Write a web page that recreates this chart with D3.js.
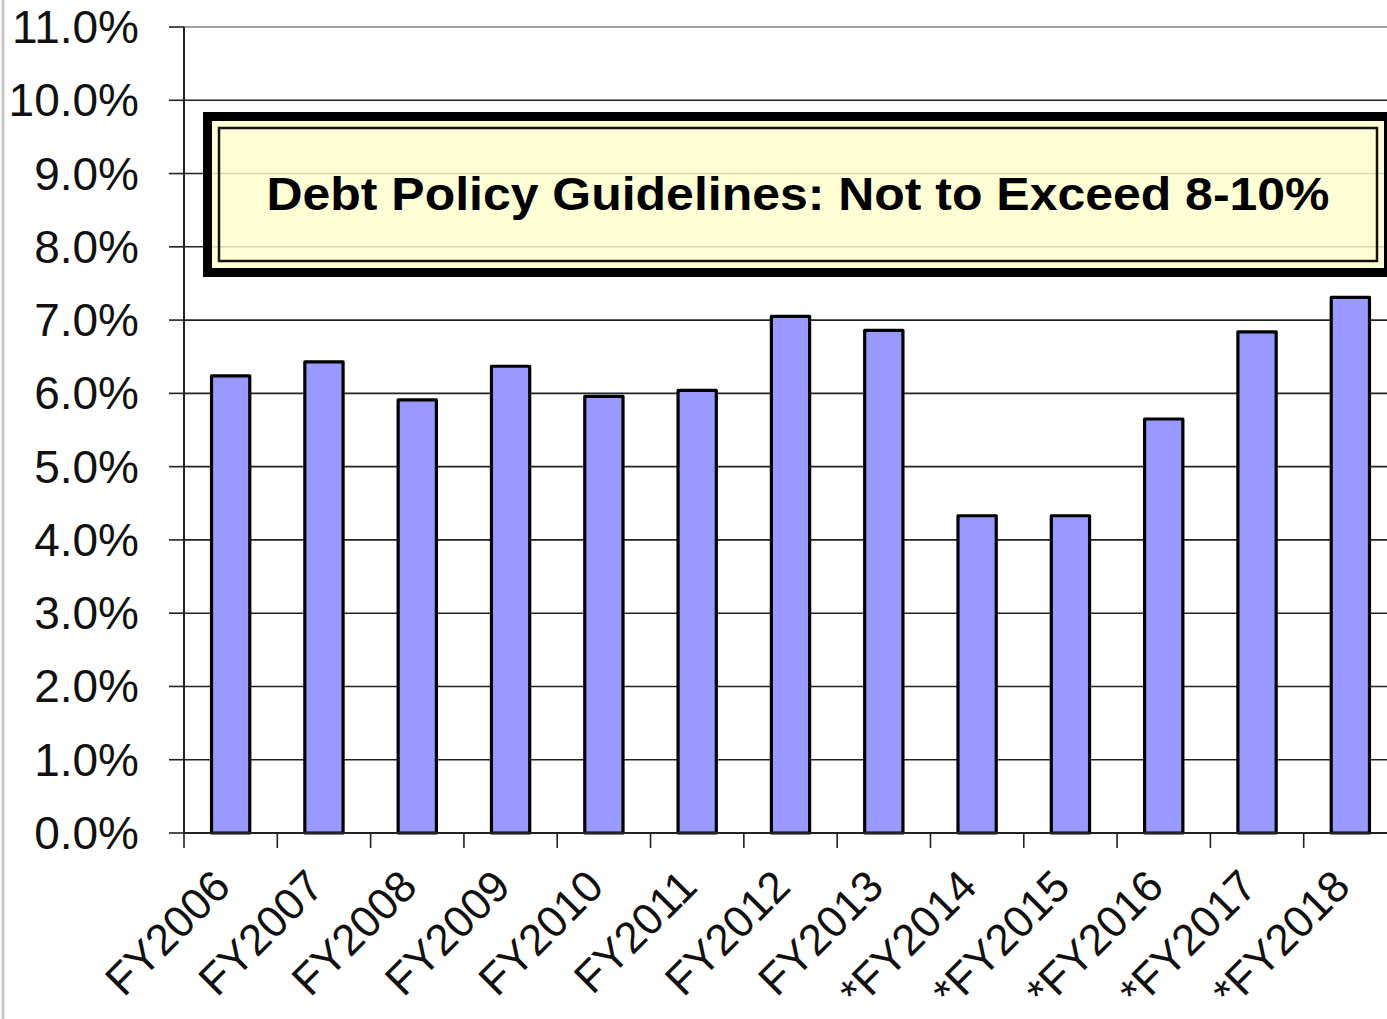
<!DOCTYPE html>
<html>
<head>
<meta charset="utf-8">
<script src="https://cdn.jsdelivr.net/npm/d3@7"></script>
<style>
  html,body{margin:0;padding:0;background:#fff;}
  svg{display:block;}
</style>
</head>
<body>
<div id="chart"></div>
<script>
// data
const years = ["FY2006","FY2007","FY2008","FY2009","FY2010","FY2011","FY2012",
               "FY2013","*FY2014","*FY2015","*FY2016","*FY2017","*FY2018"];
const ratio = [6.24, 6.43, 5.91, 6.37, 5.96, 6.04, 7.05, 6.86, 4.33, 4.33, 5.65, 6.84, 7.31];
const yTicks = [0,1,2,3,4,5,6,7,8,9,10,11];
const noteText = "Debt Policy Guidelines: Not to Exceed 8-10%";

const W=1387, H=1019;
const MG={t:27,l:184,b:186};
const iW=1213, iH=H-MG.t-MG.b;
const FONT="'Liberation Sans', Arial, sans-serif";

const svg=d3.select("#chart").append("svg").attr("width",W).attr("height",H);

// outer frame line at the left
svg.append("line").attr("x1",3).attr("x2",3).attr("y1",0).attr("y2",H)
  .attr("stroke","#c8c8c8").attr("stroke-width",3);

const g=svg.append("g").attr("transform",`translate(${MG.l},${MG.t})`);

const x=d3.scaleBand().domain(years).range([0,iW]).paddingInner(0.59).paddingOuter(0.295);
const xTick=d3.scaleBand().domain(years).range([0,iW]);
const y=d3.scaleLinear().domain([0,11]).range([iH,0]);

// gridlines
g.append("g").selectAll("line").data(yTicks.filter(v=>v>0)).join("line")
  .attr("x1",0).attr("x2",iW).attr("y1",d=>y(d)).attr("y2",d=>y(d))
  .attr("stroke",d=>d===11?"#808080":"#222").attr("stroke-width",1.6);

// guideline box
const bx=19, by=112-MG.t, bw=1190, bh=165;
const box=g.append("g");
box.append("rect").attr("x",bx+4.5).attr("y",by+4.5).attr("width",bw-9).attr("height",bh-9)
  .attr("fill","#ffffcc").attr("fill-opacity",0.82).attr("stroke","#000").attr("stroke-width",9);
box.append("rect").attr("x",bx+16).attr("y",by+16).attr("width",bw-32).attr("height",bh-32)
  .attr("fill","none").attr("stroke","#111").attr("stroke-width",2.5);
box.append("text").attr("x",798-MG.l).attr("y",210-MG.t)
  .attr("text-anchor","middle").attr("font-family",FONT).attr("font-weight","bold")
  .attr("font-size",46).attr("fill","#000")
  .attr("textLength",1063).attr("lengthAdjust","spacingAndGlyphs")
  .text(noteText);

// bars
g.selectAll(".bar").data(ratio).join("rect").attr("class","bar")
  .attr("x",(d,i)=>x(years[i])).attr("width",x.bandwidth())
  .attr("y",d=>y(d)).attr("height",d=>y(0)-y(d))
  .attr("fill","#9999ff").attr("stroke","#000").attr("stroke-width",3.2)
  .attr("stroke-linejoin","round");

// y axis
g.append("line").attr("x1",0).attr("x2",0).attr("y1",0).attr("y2",iH)
  .attr("stroke","#222").attr("stroke-width",2);
g.append("g").selectAll("line").data(yTicks).join("line")
  .attr("x1",-15).attr("x2",0).attr("y1",d=>y(d)).attr("y2",d=>y(d))
  .attr("stroke","#222").attr("stroke-width",1.6);
g.append("g").selectAll("text").data(yTicks).join("text")
  .attr("x",-45).attr("y",d=>y(d)+16).attr("text-anchor","end")
  .attr("font-family",FONT).attr("font-size",46).attr("fill","#111")
  .text(d=>d.toFixed(1)+"%");

// x axis
g.append("line").attr("x1",0).attr("x2",iW).attr("y1",iH).attr("y2",iH)
  .attr("stroke","#222").attr("stroke-width",2);
g.append("g").selectAll("line").data(years).join("line")
  .attr("x1",d=>xTick(d)).attr("x2",d=>xTick(d)).attr("y1",iH).attr("y2",iH+15)
  .attr("stroke","#222").attr("stroke-width",1.6);
g.append("g").selectAll("text").data(years).join("text")
  .attr("transform",d=>`translate(${x(d)+x.bandwidth()/2+2},${iH+56}) rotate(-45)`)
  .attr("text-anchor","end").attr("font-family",FONT).attr("font-size",44).attr("fill","#111")
  .text(d=>d);
</script>
</body>
</html>
